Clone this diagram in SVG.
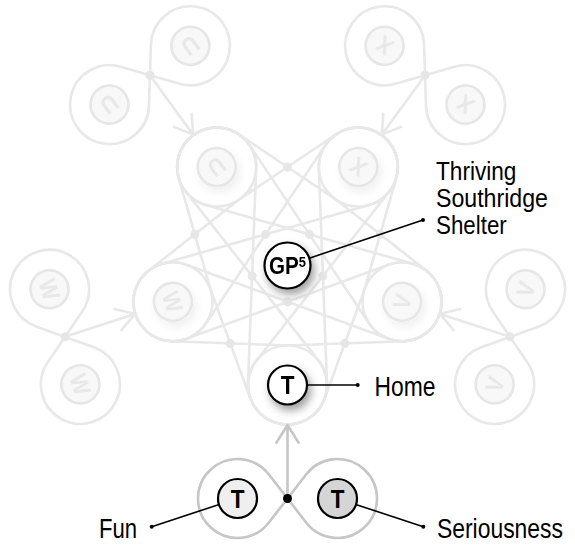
<svg xmlns="http://www.w3.org/2000/svg" width="575" height="546" viewBox="0 0 575 546">
  <defs>
    <style>
      .ring{fill:none;stroke:#e8e8e8;stroke-width:2.6;stroke-linejoin:round}
      .ring-on{fill:none;stroke:#c6c6c6;stroke-width:2.6;stroke-linejoin:round}
      .jdot{fill:#e6e6e6}
      .icon{fill:#f8f8f8;stroke:#e6e6e6;stroke-width:2.6}
      .glyph{font-family:"Liberation Sans",Arial,sans-serif;font-weight:bold;font-size:24px;fill:#e8e8e8;text-anchor:middle}
      .node{stroke:#000;stroke-width:2.2}
      .letter{font-family:"Liberation Sans",Arial,sans-serif;font-weight:bold;font-size:25px;fill:#000;text-anchor:middle}
      .leader{stroke:#000;stroke-width:1.6;fill:none}
      .label{font-family:"Liberation Sans",Arial,sans-serif;font-size:27px;fill:#000}
    </style>
    <filter id="shadow" x="-80%" y="-80%" width="260%" height="260%">
      <feGaussianBlur in="SourceAlpha" stdDeviation="4.5"/>
      <feOffset dx="3" dy="5" result="b"/>
      <feFlood flood-color="#000" flood-opacity="0.38"/>
      <feComposite in2="b" operator="in"/>
      <feMerge><feMergeNode/><feMergeNode in="SourceGraphic"/></feMerge>
    </filter>
    <filter id="shadow-faint" x="-80%" y="-80%" width="260%" height="260%">
      <feGaussianBlur in="SourceAlpha" stdDeviation="4.5"/>
      <feOffset dx="3" dy="5" result="b"/>
      <feFlood flood-color="#000" flood-opacity="0.06"/>
      <feComposite in2="b" operator="in"/>
      <feMerge><feMergeNode/><feMergeNode in="SourceGraphic"/></feMerge>
    </filter>
    <!-- figure-eight between two neighbouring star nodes (U-X, centre 287.5,264.5) -->
    <g id="loop-adjacent">
      <path class="ring" d="M238.70,134.22 L336.30,199.80 A39.5,39.5 0 1 0 336.30,134.22 L238.70,199.80 A39.5,39.5 0 1 1 238.70,134.22 Z"/>
      <circle class="jdot" cx="287.5" cy="167.01" r="4.5"/>
    </g>
    <!-- figure-eight between two non-neighbouring star nodes (W-V) -->
    <g id="loop-across">
      <path class="ring" d="M186.51,264.66 L388.49,338.82 A39.5,39.5 0 1 0 388.49,264.66 L186.51,338.82 A39.5,39.5 0 1 1 186.51,264.66 Z"/>
      <circle class="jdot" cx="287.5" cy="301.74" r="4.5"/>
    </g>
    <!-- pair figure-eight below a star node, with arrow into it -->
    <path id="pair-loop" d="M268.70,474.28 L306.30,522.72 A39.5,39.5 0 1 0 306.30,474.28 L268.70,522.72 A39.5,39.5 0 1 1 268.70,474.28 Z"/>
    <path id="pair-arrow" d="M287.5,498.5 L287.5,425 M275.84,443.66 L287.5,425 L299.16,443.66"/>
  </defs>

  <rect width="575" height="546" fill="#fff"/>

  <g id="connectors">
    <g id="merge-star">
      <use href="#loop-adjacent"/>
      <use href="#loop-adjacent" transform="rotate(72 287.5 264.5)"/>
      <use href="#loop-adjacent" transform="rotate(144 287.5 264.5)"/>
      <use href="#loop-adjacent" transform="rotate(216 287.5 264.5)"/>
      <use href="#loop-adjacent" transform="rotate(288 287.5 264.5)"/>
      <use href="#loop-across"/>
      <use href="#loop-across" transform="rotate(72 287.5 264.5)"/>
      <use href="#loop-across" transform="rotate(144 287.5 264.5)"/>
      <use href="#loop-across" transform="rotate(216 287.5 264.5)"/>
      <use href="#loop-across" transform="rotate(288 287.5 264.5)"/>
    </g>
    <g id="merge-W" transform="rotate(72 287.5 264.5)">
      <use href="#pair-loop" class="ring"/>
      <use href="#pair-arrow" class="ring"/>
      <circle class="jdot" cx="287.5" cy="498.5" r="4.5"/>
    </g>
    <g id="merge-U" transform="rotate(144 287.5 264.5)">
      <use href="#pair-loop" class="ring"/>
      <use href="#pair-arrow" class="ring"/>
      <circle class="jdot" cx="287.5" cy="498.5" r="4.5"/>
    </g>
    <g id="merge-X" transform="rotate(216 287.5 264.5)">
      <use href="#pair-loop" class="ring"/>
      <use href="#pair-arrow" class="ring"/>
      <circle class="jdot" cx="287.5" cy="498.5" r="4.5"/>
    </g>
    <g id="merge-V" transform="rotate(288 287.5 264.5)">
      <use href="#pair-loop" class="ring"/>
      <use href="#pair-arrow" class="ring"/>
      <circle class="jdot" cx="287.5" cy="498.5" r="4.5"/>
    </g>
    <g id="merge-home">
      <use href="#pair-loop" class="ring-on"/>
      <use href="#pair-arrow" class="ring-on"/>
      <circle cx="287.5" cy="498.5" r="4.5" fill="#000"/>
    </g>
    <g id="leaders">
      <path class="leader" d="M309.3,258.2 L423,220"/>
      <circle cx="423" cy="220" r="2"/>
      <path class="leader" d="M307.5,385 L357.7,385"/>
      <circle cx="357.7" cy="385" r="2"/>
      <path class="leader" d="M218.5,504.7 L151.7,526.7"/>
      <circle cx="151.7" cy="526.7" r="2"/>
      <path class="leader" d="M356.5,504.7 L423.3,526.7"/>
      <circle cx="423.3" cy="526.7" r="2"/>
    </g>
  </g>

  <!-- outer pairs, faded -->
  <g id="node-W1" transform="rotate(72 287.5 264.5)">
    <circle class="icon" cx="237.5" cy="498.5" r="19"/>
    <text class="glyph" transform="matrix(0.9,0,0,1,237.5,507.1)">W</text>
  </g>
  <g id="node-W2" transform="rotate(72 287.5 264.5)">
    <circle class="icon" cx="337.5" cy="498.5" r="19"/>
    <text class="glyph" transform="matrix(0.9,0,0,1,337.5,507.1)">W</text>
  </g>
  <g id="node-U1" transform="rotate(144 287.5 264.5)">
    <circle class="icon" cx="237.5" cy="498.5" r="19"/>
    <text class="glyph" transform="matrix(0.9,0,0,1,237.5,507.1)">U</text>
  </g>
  <g id="node-U2" transform="rotate(144 287.5 264.5)">
    <circle class="icon" cx="337.5" cy="498.5" r="19"/>
    <text class="glyph" transform="matrix(0.9,0,0,1,337.5,507.1)">U</text>
  </g>
  <g id="node-X1" transform="rotate(216 287.5 264.5)">
    <circle class="icon" cx="237.5" cy="498.5" r="19"/>
    <text class="glyph" transform="matrix(0.9,0,0,1,237.5,507.1)">X</text>
  </g>
  <g id="node-X2" transform="rotate(216 287.5 264.5)">
    <circle class="icon" cx="337.5" cy="498.5" r="19"/>
    <text class="glyph" transform="matrix(0.9,0,0,1,337.5,507.1)">X</text>
  </g>
  <g id="node-V1" transform="rotate(288 287.5 264.5)">
    <circle class="icon" cx="237.5" cy="498.5" r="19"/>
    <text class="glyph" transform="matrix(0.9,0,0,1,237.5,507.1)">V</text>
  </g>
  <g id="node-V2" transform="rotate(288 287.5 264.5)">
    <circle class="icon" cx="337.5" cy="498.5" r="19"/>
    <text class="glyph" transform="matrix(0.9,0,0,1,337.5,507.1)">V</text>
  </g>

  <!-- star nodes, faded -->
  <g id="node-W" filter="url(#shadow-faint)">
    <g transform="rotate(72 287.5 264.5)">
      <circle class="icon" cx="287.5" cy="385" r="19"/>
      <text class="glyph" transform="matrix(0.9,0,0,1,287.5,393.6)">W</text>
    </g>
  </g>
  <g id="node-U" filter="url(#shadow-faint)">
    <g transform="rotate(144 287.5 264.5)">
      <circle class="icon" cx="287.5" cy="385" r="19"/>
      <text class="glyph" transform="matrix(0.9,0,0,1,287.5,393.6)">U</text>
    </g>
  </g>
  <g id="node-X" filter="url(#shadow-faint)">
    <g transform="rotate(216 287.5 264.5)">
      <circle class="icon" cx="287.5" cy="385" r="19"/>
      <text class="glyph" transform="matrix(0.9,0,0,1,287.5,393.6)">X</text>
    </g>
  </g>
  <g id="node-V" filter="url(#shadow-faint)">
    <g transform="rotate(288 287.5 264.5)">
      <circle class="icon" cx="287.5" cy="385" r="19"/>
      <text class="glyph" transform="matrix(0.9,0,0,1,287.5,393.6)">V</text>
    </g>
  </g>

  <!-- active nodes -->
  <g id="node-home" filter="url(#shadow)">
    <circle class="node" cx="287.5" cy="385" r="19.5" fill="#fff"/>
    <text class="letter" transform="matrix(0.9,0,0,1,287.5,394)">T</text>
  </g>
  <g id="node-gp5" filter="url(#shadow)">
    <circle class="node" cx="287.5" cy="265.5" r="23" fill="#fff"/>
    <text class="letter" style="font-size:24px" transform="matrix(0.86,0,0,1,287.5,274)">GP<tspan style="font-size:15px" dy="-7">5</tspan></text>
  </g>
  <g id="node-fun">
    <circle class="node" cx="237.5" cy="498.5" r="19.5" fill="#efefef"/>
    <text class="letter" transform="matrix(0.9,0,0,1,237.5,507.5)">T</text>
  </g>
  <g id="node-seriousness">
    <circle class="node" cx="337.5" cy="498.5" r="19.5" fill="#d5d5d5"/>
    <text class="letter" transform="matrix(0.9,0,0,1,337.5,507.5)">T</text>
  </g>

  <!-- labels: condensed by a horizontal scale -->
  <g id="labels">
    <text class="label" style="font-size:26px" transform="matrix(0.87,0,0,1,436,180)">Thriving</text>
    <text class="label" style="font-size:26px" transform="matrix(0.89,0,0,1,436,207)">Southridge</text>
    <text class="label" style="font-size:26px" transform="matrix(0.86,0,0,1,436,234)">Shelter</text>
    <text class="label" transform="matrix(0.847,0,0,1,374.5,395.5)">Home</text>
    <text class="label" transform="matrix(0.82,0,0,1,99,538)">Fun</text>
    <text class="label" transform="matrix(0.848,0,0,1,437,538)">Seriousness</text>
  </g>
</svg>
